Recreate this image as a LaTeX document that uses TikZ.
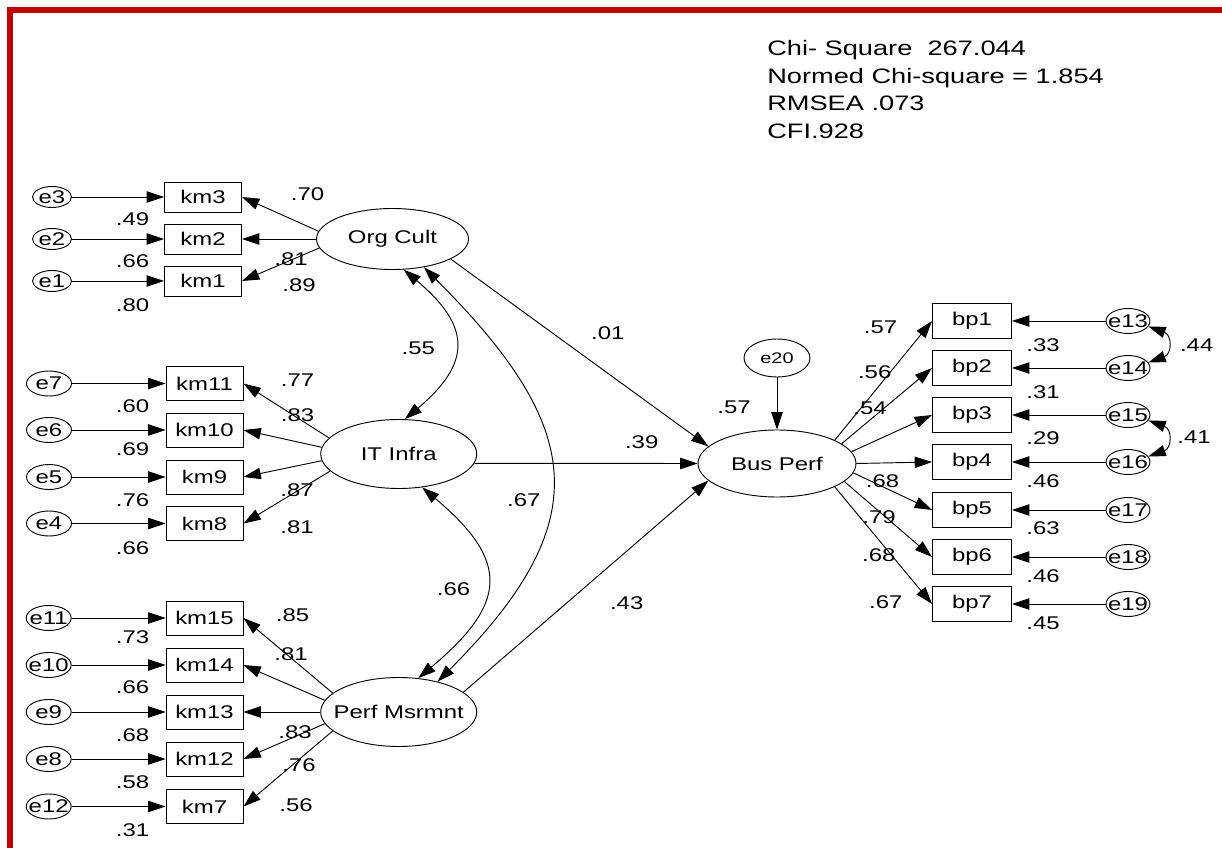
\documentclass[tikz,border=0pt]{standalone}
\usepackage{fontspec}
\setmainfont{Liberation Sans}[FakeStretch=1.3]
\usetikzlibrary{shapes.geometric,arrows.meta}
\definecolor{framered}{RGB}{192,0,0}
\tikzset{
    patharrow/.style={
        line width=0.7pt,
        black,
        -{Triangle[length=13pt,width=8.5pt]}
    },
    % double headed arrow for correlations
    covarrow/.style={
        line width=0.7pt,
        black,
        {Triangle[length=13pt,width=8.5pt]}-{Triangle[length=13pt,width=8.5pt]}
    },
    nobox/.style={
        execute at begin node={\hbox to 0pt\bgroup\hss},
        execute at end node={\hss\egroup}
    },
    itembox/.style={draw,line width=0.7pt,rectangle,minimum width=57.75pt,minimum height=25.5pt,inner sep=0pt},
    errnode/.style={draw,line width=0.7pt,ellipse,minimum width=33.75pt,minimum height=18.75pt,inner sep=0pt,nobox},
    latnode/.style={draw,line width=0.7pt,ellipse,minimum width=117pt,minimum height=51.75pt,inner sep=0pt,nobox},
    coef/.style={inner sep=0pt}
}

\begin{document}
\begin{tikzpicture}[x=0.75pt,y=-0.75pt,font=\fontsize{13.8}{16}\selectfont]
	\useasboundingbox (0,0) rectangle (1222,848);
	\draw[framered,line width=4.5pt] (10,848) -- (10,10) -- (1222,10);
	
	% fit statistics
	\node[coef,anchor=north west,align=left,font=\fontsize{15.7}{20.8}\selectfont] (fit) at (767,40)
	{Chi- Square\ \ 267.044\\Normed Chi-square = 1.854\\RMSEA .073\\CFI.928};
	
	% latent variables
	\node[latnode,minimum width=114pt,minimum height=45.75pt] (Org) at (392.5,239) {Org Cult};
	\node[latnode] (IT) at (398.7,454) {IT Infra};
	\node[latnode] (Perf) at (398.7,712) {Perf Msrmnt};
	\node[latnode,minimum width=118.5pt,minimum height=50.25pt] (Bus) at (777,463.5) {Bus Perf};
	\node[errnode,minimum width=49.5pt,minimum height=28.5pt,font=\fontsize{11.5}{13}\selectfont] (e20) at (777,358) {e20};
	
	% Org Cult items
	\node[itembox,minimum height=22.5pt] (km3) at (203,197) {km3};
	\node[itembox,minimum height=22.5pt] (km2) at (203,239) {km2};
	\node[itembox,minimum height=22.5pt] (km1) at (203,281) {km1};
	\node[errnode,minimum width=29.25pt,minimum height=15.75pt] (e3) at (52,197) {e3};
	\node[errnode,minimum width=29.25pt,minimum height=15.75pt] (e2) at (52,239) {e2};
	\node[errnode,minimum width=29.25pt,minimum height=15.75pt] (e1) at (52,281) {e1};
	
	% IT Infra items
	\node[itembox] (km11) at (204.5,383.5) {km11};
	\node[itembox] (km10) at (204.5,430) {km10};
	\node[itembox] (km9) at (204.5,477) {km9};
	\node[itembox] (km8) at (204.5,523.5) {km8};
	\node[errnode] (e7) at (49,383.5) {e7};
	\node[errnode] (e6) at (49,430) {e6};
	\node[errnode] (e5) at (49,477) {e5};
	\node[errnode] (e4) at (49,523.5) {e4};
	
	% Perf Msrmnt items
	\node[itembox] (km15) at (204.5,618) {km15};
	\node[itembox] (km14) at (204.5,665) {km14};
	\node[itembox] (km13) at (204.5,712) {km13};
	\node[itembox] (km12) at (204.5,759) {km12};
	\node[itembox] (km7) at (204.5,806.5) {km7};
	\node[errnode] (e11) at (48.7,618) {e11};
	\node[errnode] (e10) at (48.7,665) {e10};
	\node[errnode] (e9) at (48.7,712) {e9};
	\node[errnode] (e8) at (48.7,759) {e8};
	\node[errnode] (e12) at (48.7,806.5) {e12};
	
	% Bus Perf items
	\node[itembox,minimum width=59.25pt,minimum height=26.25pt] (bp1) at (972,321) {bp1};
	\node[itembox,minimum width=59.25pt,minimum height=26.25pt] (bp2) at (972,368) {bp2};
	\node[itembox,minimum width=59.25pt,minimum height=26.25pt] (bp3) at (972,415) {bp3};
	\node[itembox,minimum width=59.25pt,minimum height=26.25pt] (bp4) at (972,462) {bp4};
	\node[itembox,minimum width=59.25pt,minimum height=26.25pt] (bp5) at (972,510) {bp5};
	\node[itembox,minimum width=59.25pt,minimum height=26.25pt] (bp6) at (972,557) {bp6};
	\node[itembox,minimum width=59.25pt,minimum height=26.25pt] (bp7) at (972,604) {bp7};
	\node[errnode,minimum width=33pt] (e13) at (1128,321) {e13};
	\node[errnode,minimum width=33pt] (e14) at (1128,368) {e14};
	\node[errnode,minimum width=33pt] (e15) at (1128,415) {e15};
	\node[errnode,minimum width=33pt] (e16) at (1128,462) {e16};
	\node[errnode,minimum width=33pt] (e17) at (1128,510) {e17};
	\node[errnode,minimum width=33pt] (e18) at (1128,557) {e18};
	\node[errnode,minimum width=33pt] (e19) at (1128,604) {e19};
	
	% error arrows
	\draw[patharrow] (e3) -- (km3);
	\draw[patharrow] (e2) -- (km2);
	\draw[patharrow] (e1) -- (km1);
	\draw[patharrow] (e7) -- (km11);
	\draw[patharrow] (e6) -- (km10);
	\draw[patharrow] (e5) -- (km9);
	\draw[patharrow] (e4) -- (km8);
	\draw[patharrow] (e11) -- (km15);
	\draw[patharrow] (e10) -- (km14);
	\draw[patharrow] (e9) -- (km13);
	\draw[patharrow] (e8) -- (km12);
	\draw[patharrow] (e12) -- (km7);
	\draw[patharrow] (e13) -- (bp1);
	\draw[patharrow] (e14) -- (bp2);
	\draw[patharrow] (e15) -- (bp3);
	\draw[patharrow] (e16) -- (bp4);
	\draw[patharrow] (e17) -- (bp5);
	\draw[patharrow] (e18) -- (bp6);
	\draw[patharrow] (e19) -- (bp7);
	\draw[patharrow] (e20) -- (Bus);
	
	% loadings
	\draw[patharrow] (Org.174) -- (km3.east);
	\draw[patharrow] (Org.west) -- (km2.east);
	\draw[patharrow] (Org.187) -- (km1.east);
	\draw[patharrow] (IT.167) -- (km11.east);
	\draw[patharrow] (IT.175) -- (km10.east);
	\draw[patharrow] (IT.185) -- (km9.east);
	\draw[patharrow] (IT.194) -- (km8.east);
	\draw[patharrow] (Perf.164) -- (km15.east);
	\draw[patharrow] (Perf.171) -- (km14.east);
	\draw[patharrow] (Perf.west) -- (km13.east);
	\draw[patharrow] (Perf.189) -- (km12.east);
	\draw[patharrow] (Perf.196) -- (km7.east);
	\draw[patharrow] (Bus.22) -- (bp1.west);
	\draw[patharrow] (Bus.17) -- (bp2.west);
	\draw[patharrow] (Bus.9) -- (bp3.west);
	\draw[patharrow] (Bus.east) -- (bp4.west);
	\draw[patharrow] (Bus.-7.5) -- (bp5.west);
	\draw[patharrow] (Bus.-15) -- (bp6.west);
	\draw[patharrow] (Bus.-22.5) -- (bp7.west);
	
	% structural paths
	\draw[patharrow] (Org.-19) -- (Bus.166);
	\draw[patharrow] (IT.-7) -- (Bus.west);
	\draw[patharrow] (Perf.17) -- (Bus.194);
	
	% correlations
	\draw[covarrow] (Org.-70) to[out=-40,in=40,looseness=1.5] (IT.80);
	\draw[covarrow] (Org.-42) to[out=-45,in=45,looseness=1.4] (Perf.38);
	\draw[covarrow] (IT.-55) to[out=-40,in=40,looseness=1.55] (Perf.60);
	\draw[covarrow] (e13.-15) to[out=-20,in=20,looseness=1.8] (e14.15);
	\draw[covarrow] (e15.-15) to[out=-20,in=20,looseness=1.8] (e16.15);
	
	% coefficients, left
	\node[coef] (w1) at (307.5,194) {.70};
	\node[coef] (w2) at (291,259) {.81};
	\node[coef] (w3) at (299,285) {.89};
	\node[coef] (r1) at (132.5,219) {.49};
	\node[coef] (r2) at (132.5,261.5) {.66};
	\node[coef] (r3) at (132.5,305) {.80};
	\node[coef] (w4) at (297.5,380) {.77};
	\node[coef] (w5) at (297.5,415) {.83};
	\node[coef] (w6) at (297,490) {.87};
	\node[coef] (w7) at (297,527) {.81};
	\node[coef] (r4) at (132.5,406.5) {.60};
	\node[coef] (r5) at (132.5,449.5) {.69};
	\node[coef] (r6) at (132.5,500) {.76};
	\node[coef] (r7) at (132.5,548) {.66};
	\node[coef] (w8) at (292.5,615) {.85};
	\node[coef] (w9) at (291,654) {.81};
	\node[coef] (w10) at (295,732) {.83};
	\node[coef] (w11) at (299,765) {.76};
	\node[coef] (w12) at (296,805) {.56};
	\node[coef] (r8) at (132.5,637.5) {.73};
	\node[coef] (r9) at (132.5,687.5) {.66};
	\node[coef] (r10) at (132.5,735) {.68};
	\node[coef] (r11) at (132.5,782.5) {.58};
	\node[coef] (r12) at (132.5,830) {.31};
	
	% coefficients, middle
	\node[coef] (k1) at (418.3,348.3) {.55};
	\node[coef] (k2) at (523.8,500) {.67};
	\node[coef] (k3) at (453.5,589) {.66};
	\node[coef] (g1) at (607.8,333.3) {.01};
	\node[coef] (g2) at (641.7,442.3) {.39};
	\node[coef] (g3) at (626.7,603.3) {.43};
	\node[coef] (rsq) at (734,407.3) {.57};
	
	% coefficients, right
	\node[coef] (w13) at (880.5,327.7) {.57};
	\node[coef] (w14) at (874.7,371.7) {.56};
	\node[coef] (w15) at (870,408.3) {.54};
	\node[coef] (w16) at (882.5,480.7) {.68};
	\node[coef] (w17) at (879,517.3) {.79};
	\node[coef] (w18) at (878.8,555) {.68};
	\node[coef] (w19) at (885.8,601.7) {.67};
	\node[coef] (r13) at (1043,345) {.33};
	\node[coef] (r14) at (1043,391.7) {.31};
	\node[coef] (r15) at (1043,438.3) {.29};
	\node[coef] (r16) at (1043,480.7) {.46};
	\node[coef] (r17) at (1043,528.3) {.63};
	\node[coef] (r18) at (1043,576) {.46};
	\node[coef] (r19) at (1043,623.3) {.45};
	\node[coef] (k4) at (1196.7,345) {.44};
	\node[coef] (k5) at (1194,436.7) {.41};
\end{tikzpicture}
\end{document}
